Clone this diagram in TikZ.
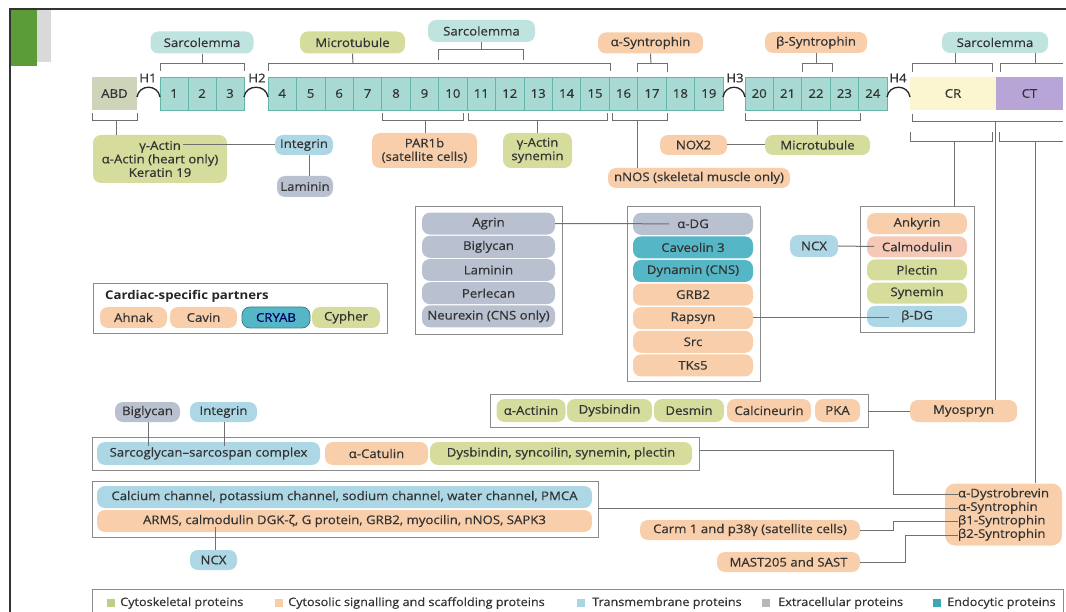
\documentclass[tikz,border=0pt]{standalone}
\usepackage{fontspec}
\setmainfont{Open Sans}[FakeStretch=1.1, UprightFeatures={FakeBold=0.5}]
\newcommand\fs{\fontsize{12}{13.5}\selectfont}
\newcommand\fsl{\fontsize{11.5}{13}\selectfont}
\definecolor{txt}{HTML}{333333}
\definecolor{tealL}{HTML}{BFE3DF}
\definecolor{rep}{HTML}{A8DAD3}
\definecolor{repline}{HTML}{63B5AA}
\definecolor{grn}{HTML}{D6DD9C}
\definecolor{org}{HTML}{F8CFAA}
\definecolor{calm}{HTML}{F5C9B6}
\definecolor{blu}{HTML}{ADD7E5}
\definecolor{gry}{HTML}{B9C1D0}
\definecolor{endo}{HTML}{55B6C6}
\definecolor{abdc}{HTML}{CDD4BA}
\definecolor{crc}{HTML}{FBF5D0}
\definecolor{ctc}{HTML}{B8A5D8}
\definecolor{lin}{HTML}{707070}
\definecolor{boxc}{HTML}{8A8A8A}
\definecolor{greenbar}{HTML}{5C9C38}
\definecolor{lgG}{HTML}{BCD083}
\definecolor{lgO}{HTML}{F6CFAA}
\definecolor{lgB}{HTML}{AAD5E3}
\definecolor{lgX}{HTML}{B8B8B8}
\definecolor{lgT}{HTML}{3BA9B4}
\tikzset{
  pill/.style={rounded corners=8pt, inner sep=0pt, font=\fs, text=txt, align=center, minimum height=21pt},
  rep/.style={rectangle, fill=rep, draw=repline, line width=0.7pt, minimum height=33pt, inner sep=0pt, font=\fs, text=txt},
  blk/.style={rectangle, inner sep=0pt, minimum height=33pt, font=\fs, text=txt},
  br/.style={draw=lin, line width=1pt},
  con/.style={draw=lin, line width=1pt},
  grp/.style={draw=boxc, line width=1pt},
  hinge/.style={draw=black!85, line width=1.3pt},
  hl/.style={font=\fs, text=txt, inner sep=0pt},
  sq/.style={rectangle, minimum size=8pt, inner sep=0pt},
  lg/.style={font=\fsl, text=txt, anchor=west, inner sep=0pt}
}
\begin{document}
\begin{tikzpicture}[x=1pt,y=-1pt]
\useasboundingbox (0,0) rectangle (1066,612);
% frame
\fill[greenbar] (10,10) rectangle (37,66);
\fill[black!15] (37,10) rectangle (51,62);
\draw[black!80, line width=1.2pt] (10,612) -- (10,9) -- (1066,9);

% top row
\node[blk, fill=abdc, minimum width=45pt] (abd) at (114.5,93.5) {ABD};
\foreach \i in {1,2,3} { \node[rep, minimum width=28pt] (r\i) at ({160+(\i-1)*28+14},93.5) {\i}; }
\foreach \i in {4,...,19} { \node[rep, minimum width=28.44pt] (r\i) at ({268+(\i-4)*28.44+14.22},93.5) {\i}; }
\foreach \i in {20,...,24} { \node[rep, minimum width=28.4pt] (r\i) at ({745+(\i-20)*28.4+14.2},93.5) {\i}; }
\node[blk, fill=crc, minimum width=86pt] (cr) at (953,93.5) {CR};
\node[blk, fill=ctc, minimum width=67pt] (ct) at (1029.5,93.5) {CT};
% hinges
\draw[hinge] (137,97) .. controls (139,84) and (158,84) .. (160,97);
\draw[hinge] (244,97) .. controls (246,84) and (266,84) .. (268,97);
\draw[hinge] (723,97) .. controls (725,84) and (743,84) .. (745,97);
\draw[hinge] (887,97) .. controls (889,84) and (908,84) .. (910,97);
\node[hl] (h1) at (148,78) {H1};
\node[hl] (h2) at (257,78) {H2};
\node[hl] (h3) at (735,78) {H3};
\node[hl] (h4) at (898,78) {H4};

% top partners
\node[pill, fill=tealL, minimum width=103pt, minimum height=22pt] (sarc1) at (202,42.5) {Sarcolemma};
\node[pill, fill=grn, minimum width=105pt, minimum height=22pt] (micro1) at (352.5,42.5) {Microtubule};
\node[pill, fill=tealL, minimum width=107pt, minimum height=22pt] (sarc2) at (481.5,31) {Sarcolemma};
\node[pill, fill=org, minimum width=105pt] (asyn) at (650.5,43) {α-Syntrophin};
\node[pill, fill=org, minimum width=102pt] (bsyn) at (816,42.5) {β-Syntrophin};
\node[pill, fill=tealL, minimum width=106pt] (sarc3) at (995,42.5) {Sarcolemma};

% top brackets
\draw[br] (160,71) -- (160,64) -- (244,64) -- (244,71);
\draw[br] (sarc1.south) -- (202,64);
\draw[br] (268,71) -- (268,64) -- (610,64) -- (610,71);
\draw[br] (micro1.south) -- (353,64);
\draw[br] (438,60) -- (438,50) -- (523,50) -- (523,60);
\draw[br] (sarc2.south) -- (481.5,50);
\draw[br] (637,72) -- (637,64) -- (667,64) -- (667,72);
\draw[br] (asyn.south) -- (651,64);
\draw[br] (802,72) -- (802,64) -- (832,64) -- (832,72);
\draw[br] (bsyn.south) -- (816,64);
\draw[br] (912,72) -- (912,64) -- (992,64) -- (992,72);
\draw[br] (1000,72) -- (1000,64) -- (1063,64);
\draw[br] (955,53) -- (955,64);
\draw[br] (1035,53) -- (1035,64);

% bottom partners of the row
\node[pill, fill=grn, minimum width=134pt, minimum height=48pt] (actin) at (160,159) {γ-Actin\\α-Actin (heart only)\\Keratin 19};
\node[pill, fill=blu, minimum width=58pt, minimum height=20pt] (integ1) at (304,145) {Integrin};
\node[pill, fill=gry, minimum width=56pt] (lamin1) at (305,186.5) {Laminin};
\node[pill, fill=org, minimum width=105pt, minimum height=35pt] (par1b) at (424.5,150.5) {PAR1b\\(satellite cells)};
\node[pill, fill=grn, minimum width=69pt, minimum height=35pt] (gact2) at (537.5,150.5) {γ-Actin\\synemin};
\node[pill, fill=org, minimum width=67pt, minimum height=20pt] (nox2) at (693.5,145) {NOX2};
\node[pill, fill=grn, minimum width=105pt, minimum height=20pt] (micro2) at (817.5,145) {Microtubule};
\node[pill, fill=org, minimum width=182pt, minimum height=20pt] (nnos) at (699,178) {nNOS (skeletal muscle only)};

% bottom brackets
\draw[br] (92,113) -- (92,121) -- (137,121) -- (137,113);
\draw[br] (116,121) -- (actin.north -| 116,0);
\draw[br] (382,113) -- (382,121) -- (463,121) -- (463,113);
\draw[br] (425,121) -- (par1b.north -| 425,0);
\draw[br] (468,113) -- (468,121) -- (607,121) -- (607,113);
\draw[br] (537.5,121) -- (gact2.north);
\draw[br] (612,113) -- (612,121) -- (667,121) -- (667,113);
\draw[br] (637,121) -- (nnos.north -| 637,0);
\draw[br] (745,113) -- (745,121) -- (860,121) -- (860,113);
\draw[br] (817.5,121) -- (micro2.north);
\draw[br] (912,114) -- (912,122) -- (1063,122);
\draw[br] (910,132) -- (910,142) -- (992,142) -- (992,132);
\draw[br] (999,132) -- (999,142) -- (1063,142);

\coordinate (gacttxt) at (183,145);
\draw[con] (gacttxt) -- (integ1.west);
\draw[con] (integ1.south -| 309,0) -- (lamin1.north -| 309,0);
\draw[con] (nox2.east) -- (micro2.west);

% extracellular group
\draw[grp] (415,207) rectangle (562,335);
\node[pill, fill=gry, minimum width=133pt, minimum height=22pt] (agrin) at (488.5,223.6) {Agrin};
\node[pill, fill=gry, minimum width=133pt, minimum height=22pt] (bigly) at (488.5,246.8) {Biglycan};
\node[pill, fill=gry, minimum width=133pt, minimum height=22pt] (lamin2) at (488.5,270) {Laminin};
\node[pill, fill=gry, minimum width=133pt, minimum height=22pt] (perle) at (488.5,293.2) {Perlecan};
\node[pill, fill=gry, minimum width=133pt, minimum height=22pt] (neurx) at (488.5,316.4) {Neurexin (CNS only)};

% central group
\draw[grp] (627,207) rectangle (760,382);
\node[pill, fill=gry, minimum width=120pt, minimum height=22pt] (adg) at (693,223.8) {α-DG};
\node[pill, fill=endo, minimum width=120pt, minimum height=22pt] (cav3) at (693,247.4) {Caveolin 3};
\node[pill, fill=endo, minimum width=120pt, minimum height=22pt] (dyna) at (693,271) {Dynamin (CNS)};
\node[pill, fill=org, minimum width=120pt, minimum height=22pt] (grb2) at (693,294.6) {GRB2};
\node[pill, fill=org, minimum width=120pt, minimum height=22pt] (rapsyn) at (693,318.2) {Rapsyn};
\node[pill, fill=org, minimum width=120pt, minimum height=22pt] (src) at (693,341.8) {Src};
\node[pill, fill=org, minimum width=120pt, minimum height=22pt] (tks5) at (693,365.4) {TKs5};
\coordinate (adgtxt) at (669,223.8);
\draw[con] (agrin.east) -- (adgtxt);

% right group
\draw[grp] (860,207) rectangle (974,333);
\node[pill, fill=org, minimum width=100pt, minimum height=21pt] (ankyr) at (917,223.6) {Ankyrin};
\node[pill, fill=calm, minimum width=100pt, minimum height=21pt] (calmo) at (917,246.8) {Calmodulin};
\node[pill, fill=grn, minimum width=100pt, minimum height=21pt] (plect) at (917,270) {Plectin};
\node[pill, fill=grn, minimum width=100pt, minimum height=21pt] (synem) at (917,293.2) {Synemin};
\node[pill, fill=blu, minimum width=100pt, minimum height=21pt] (bdg) at (917,316.4) {β-DG};
\node[pill, fill=blu, minimum width=48pt, minimum height=22pt] (ncx1) at (814,246) {NCX};
\coordinate (calmtxt) at (874,246.5);
\coordinate (bdgtxt) at (889,317.5);
\draw[con] (ncx1.east) -- (calmtxt);
\draw[con] (rapsyn.east |- bdgtxt) -- (bdgtxt);
\draw[br] (954,142) -- (954,207);

% cardiac
\draw[grp] (93,284) rectangle (387,334);
\node[font=\fs\bfseries, text=black!85, anchor=west, inner sep=0pt] (cardt) at (105,296.5) {Cardiac-specific partners};
\node[pill, fill=org, minimum width=67pt] (ahnak) at (133.5,317.5) {Ahnak};
\node[pill, fill=org, minimum width=67pt] (cavin) at (203.5,317.5) {Cavin};
\node[pill, fill=endo, draw=endo!70!black, line width=0.8pt, minimum width=68pt, text=blue!40!black] (cryab) at (276,317.5) {CRYAB};
\node[pill, fill=grn, minimum width=68pt] (cypher) at (346,317.5) {Cypher};

% actinin group
\draw[grp] (490,394) rectangle (868,427);
\node[pill, fill=grn, minimum width=69pt, minimum height=23pt] (aact) at (531,410.5) {α-Actinin};
\node[pill, fill=grn, minimum width=85pt, minimum height=23pt] (dysb) at (609.5,410.5) {Dysbindin};
\node[pill, fill=grn, minimum width=70pt, minimum height=23pt] (desm) at (689,410.5) {Desmin};
\node[pill, fill=org, minimum width=84pt, minimum height=23pt] (calci) at (769,410.5) {Calcineurin};
\node[pill, fill=org, minimum width=45pt, minimum height=23pt] (pka) at (837.5,410.5) {PKA};
\node[pill, fill=org, minimum width=107pt, minimum height=22pt] (myosp) at (963.5,411) {Myospryn};
\coordinate (actbox) at (868,411);
\draw[con] (actbox) -- (myosp.west);
\draw[br] (995,122) -- (myosp.north -| 995,0);

% sarcoglycan group
\node[pill, fill=gry, minimum width=65pt, minimum height=20pt] (bigly2) at (147.5,412) {Biglycan};
\node[pill, fill=blu, minimum width=67pt, minimum height=20pt] (integ2) at (223.5,412) {Integrin};
\draw[grp] (92,437) rectangle (699,470);
\node[pill, fill=blu, minimum width=223pt, minimum height=23pt] (sgc) at (208.5,453.5) {Sarcoglycan–sarcospan complex};
\node[pill, fill=org, minimum width=103pt, minimum height=23pt] (catul) at (376.5,453.5) {α-Catulin};
\node[pill, fill=grn, minimum width=262pt, minimum height=23pt] (dysb2) at (561,453.5) {Dysbindin, syncoilin, synemin, plectin};
\draw[con] (bigly2.south -| 148,0) -- (148,446);
\draw[con] (integ2.south -| 224,0) -- (224,446);

% channels group
\draw[grp] (92,481) rectangle (598,537);
\node[pill, fill=blu, minimum width=495pt, minimum height=22pt] (calch) at (344.5,497) {Calcium channel, potassium channel, sodium channel, water channel, PMCA};
\node[pill, fill=org, minimum width=495pt, minimum height=22pt] (arms) at (344.5,521) {ARMS, calmodulin DGK-ζ, G protein, GRB2, myocilin, nNOS, SAPK3};
\node[pill, fill=blu, minimum width=47pt, minimum height=20pt] (ncx2) at (213.5,560) {NCX};
\draw[con] (215,527) -- (ncx2.north -| 215,0);

% syntrophin box
\node[pill, fill=org, rounded corners=10pt, minimum width=117pt, minimum height=62pt, align=left] (dystro) at (1003.5,514.5) {α-Dystrobrevin\\α-Syntrophin\\β1-Syntrophin\\β2-Syntrophin};
\node[pill, fill=org, minimum width=220pt, minimum height=20pt] (carm) at (750,530) {Carm 1 and p38γ (satellite cells)};
\node[pill, fill=org, minimum width=143pt, minimum height=20pt] (mast) at (788.5,562) {MAST205 and SAST};
\coordinate (t1) at (958,494.5);
\coordinate (t2) at (958,508);
\coordinate (t3) at (958,521.5);
\coordinate (t4) at (958,535);
\coordinate (sgcbox) at (699,450);
\coordinate (chbox) at (598,508);
\draw[con] (sgcbox) -- (893,450) -- (893,494.5) -- (t1);
\draw[con] (chbox) -- (t2);
\draw[con] (carm.east) -- (893,530) -- (893,521.5) -- (t3);
\draw[con] (mast.east) -- (905,562) -- (905,535) -- (t4);
\draw[br] (1035,142) -- (dystro.north -| 1035,0);

% legend
\draw[grp] (92,612) -- (92,589) -- (1063,589) -- (1063,612);
\node[sq, fill=lgG] (s1) at (111,603) {};
\node[lg] (l1) at (120,603) {Cytoskeletal proteins};
\node[sq, fill=lgO] (s2) at (279,603) {};
\node[lg] (l2) at (288,603) {Cytosolic signalling and scaffolding proteins};
\node[sq, fill=lgB] (s3) at (581,603) {};
\node[lg] (l3) at (592,603) {Transmembrane proteins};
\node[sq, fill=lgX] (s4) at (766,603) {};
\node[lg] (l4) at (778,603) {Extracellular proteins};
\node[sq, fill=lgT] (s5) at (937,603) {};
\node[lg] (l5) at (947,603) {Endocytic proteins};
\end{tikzpicture}
\end{document}
